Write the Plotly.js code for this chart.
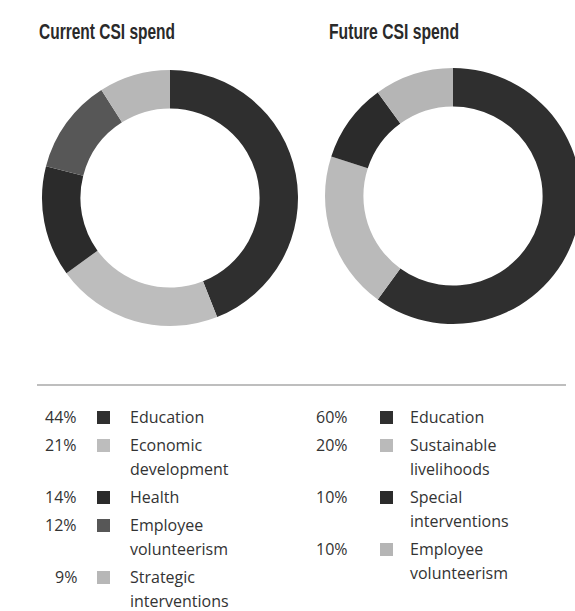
<!DOCTYPE html>
<html>
<head>
<meta charset="utf-8">
<script src="https://cdn.plot.ly/plotly-3.0.1.min.js"></script>
<style>
html,body{margin:0;padding:0;overflow:hidden;background:#fff;width:575px;height:611px;}
#chart{width:600px;height:611px;}
</style>
</head>
<body>
<div id="chart"></div>
<script>
// ---- data ----
var titleCurrent = "Current CSI spend";
var titleFuture = "Future CSI spend";
var labelsCurrent = ["Education", "Economic development", "Health", "Employee volunteerism", "Strategic interventions"];
var wrapCurrent = [["Education"], ["Economic", "development"], ["Health"], ["Employee", "volunteerism"], ["Strategic", "interventions"]];
var valuesCurrent = [44, 21, 14, 12, 9];
var colorsCurrent = ["#2f2f2f", "#bdbdbd", "#2b2b2b", "#575757", "#b7b7b7"];

var labelsFuture = ["Education", "Sustainable livelihoods", "Special interventions", "Employee volunteerism"];
var wrapFuture = [["Education"], ["Sustainable", "livelihoods"], ["Special", "interventions"], ["Employee", "volunteerism"]];
var valuesFuture = [60, 20, 10, 10];
var colorsFuture = ["#2f2f2f", "#bababa", "#2b2b2b", "#b5b5b5"];

// ---- layout helpers ----
var W = 600, H = 611;
function px(x){ return x / W; }
function py(y){ return 1 - y / H; }

function donut(labels, values, colors, cx, cy, r){
  return {
    type: "pie", labels: labels, values: values, sort: false,
    direction: "clockwise", rotation: 0, hole: 0.70,
    marker: {colors: colors, line: {width: 0}},
    textinfo: "none", hoverinfo: "label+percent", showlegend: false,
    domain: {x: [px(cx - r), px(cx + r)], y: [py(cy + r), py(cy - r)]}
  };
}

var data = [
  donut(labelsCurrent, valuesCurrent, colorsCurrent, 170, 198, 128),
  donut(labelsFuture, valuesFuture, colorsFuture, 453, 196, 128)
];

var annotations = [];
var shapes = [];
var titleFont = {family: "Liberation Sans, Arial, sans-serif", size: 22, color: "#2a2a2a"};
annotations.push({xref:"paper", yref:"paper", x:px(37), y:py(31), xanchor:"left", yanchor:"middle", text:"<b>"+titleCurrent+"</b>", showarrow:false, font:titleFont});
annotations.push({xref:"paper", yref:"paper", x:px(327), y:py(31), xanchor:"left", yanchor:"middle", text:"<b>"+titleFuture+"</b>", showarrow:false, font:titleFont});

shapes.push({type:"line", xref:"paper", yref:"paper", x0:px(37), x1:px(566), y0:py(385), y1:py(385), line:{color:"#a8a8a8", width:1.5}});

var legFont = {family: "Open Sans, Noto Sans, sans-serif", size: 16, color: "#333333"};

function legend(wraps, values, colors, pctRight, sqLeft, textLeft){
  var y = 417;
  for (var i = 0; i < values.length; i++) {
    annotations.push({xref:"paper", yref:"paper", x:px(pctRight), y:py(y), xanchor:"right", yanchor:"middle",
      text: values[i] + "%", showarrow:false, font:legFont});
    shapes.push({type:"rect", xref:"paper", yref:"paper", x0:px(sqLeft), x1:px(sqLeft+13), y0:py(y+7), y1:py(y-6),
      fillcolor: colors[i], line:{width:0}});
    for (var k = 0; k < wraps[i].length; k++) {
      annotations.push({xref:"paper", yref:"paper", x:px(textLeft), y:py(y + 24*k), xanchor:"left", yanchor:"middle",
        text: wraps[i][k], showarrow:false, font:legFont});
    }
    y += 28 + 24 * (wraps[i].length - 1);
  }
}
legend(wrapCurrent, valuesCurrent, colorsCurrent, 79, 97, 128);
legend(wrapFuture, valuesFuture, colorsFuture, 350, 380, 408);

var layout = {
  width: W, height: H,
  margin: {l:0, r:0, t:0, b:0},
  paper_bgcolor: "#ffffff", plot_bgcolor: "#ffffff",
  showlegend: false,
  annotations: annotations,
  shapes: shapes
};

Plotly.newPlot("chart", data, layout, {displayModeBar: false, staticPlot: true}).then(function(gd){
  // condensed look for the two titles, keeping their left edges
  var widths = {}; widths[titleCurrent] = 136; widths[titleFuture] = 130;
  gd.querySelectorAll(".annotation-text").forEach(function(t){
    var w = widths[t.textContent];
    if (w) {
      var bb = t.getBBox();
      t.setAttribute("text-anchor", "start");
      t.setAttribute("x", bb.x);
      t.setAttribute("textLength", w);
      t.setAttribute("lengthAdjust", "spacingAndGlyphs");
    }
  });
});
</script>
</body>
</html>
